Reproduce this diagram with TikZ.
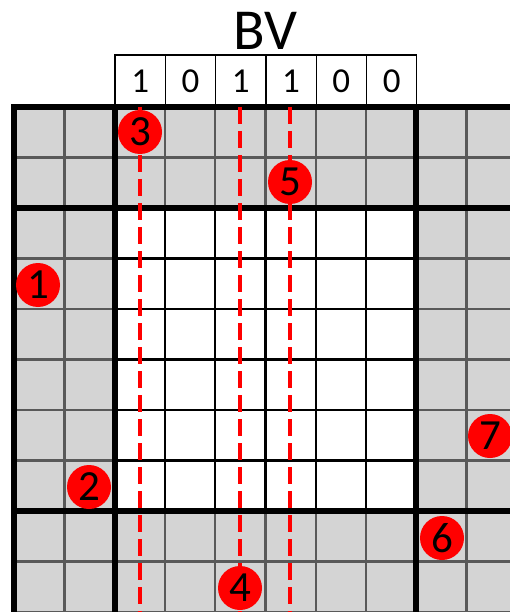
\documentclass[tikz,border=0pt]{standalone}
\usepackage{fontspec}
\setmainfont{Carlito}
\begin{document}
\begin{tikzpicture}[x=1pt,y=-1pt,
  marker/.style={circle,fill=red,minimum size=44pt,inner sep=0pt,font=\fontsize{43}{43}\selectfont},
  bitbox/.style={draw=black,line width=1.3pt,minimum width=50.3pt,minimum height=52pt,inner sep=0pt,font=\fontsize{35}{35}\selectfont},
  thin/.style={draw=black!65,line width=2.5pt},
  inner/.style={draw=black,line width=2.2pt},
  thick/.style={draw=black,line width=5.5pt},
  reddash/.style={draw=red,line width=4.5pt,dash pattern=on 17pt off 7pt}]
\useasboundingbox (0,0) rectangle (510,612);
\begin{scope}
\clip (0,0) rectangle (510,612);
% grey field and white centre
\fill[black!17] (14,107) rectangle (520,615);
\fill[white] (115,208) rectangle (416,511);
% thin grid lines
\foreach \i in {1,...,10} \draw[thin] ({14+50.3*\i},107) -- ({14+50.3*\i},615);
\foreach \j in {1,...,10} \draw[thin] (14,{107+50.5*\j}) -- (520,{107+50.5*\j});
% inner black lines
\foreach \i in {3,...,7} \draw[inner] ({14+50.3*\i},208) -- ({14+50.3*\i},511);
\foreach \j in {3,...,7} \draw[inner] (115,{107+50.5*\j}) -- (416,{107+50.5*\j});
% thick lines
\draw[thick] (14,104.25) -- (14,615);
\draw[thick] (115,107) -- (115,615);
\draw[thick] (416,107) -- (416,615);
\draw[thick] (11.25,107) -- (520,107);
\draw[thick] (14,208) -- (520,208);
\draw[thick] (14,511) -- (520,511);
\end{scope}
% bit vector boxes
\foreach \b [count=\k from 0] in {1,0,1,1,0,0}
  \node[bitbox] (b\k) at ({115+25.15+50.3*\k},81) {\b};
\node[font=\fontsize{58}{58}\selectfont] (bv) at (265.5,31) {BV};
% red dashed lines
\coordinate (d1t) at (140,107); \coordinate (d1b) at (140,612);
\coordinate (d2t) at (240,107); \coordinate (d2b) at (240,612);
\coordinate (d3t) at (290,107); \coordinate (d3b) at (290,612);
\draw[reddash] (d1t) -- (d1b);
\draw[reddash] (d2t) -- (d2b);
\draw[reddash] (d3t) -- (d3b);
% markers
\node[marker] (m1) at (38,285) {1};
\node[marker] (m2) at (89,487) {2};
\node[marker] (m3) at (140,132) {3};
\node[marker] (m4) at (240,588) {4};
\node[marker] (m5) at (290,182) {5};
\node[marker] (m6) at (442,538) {6};
\node[marker] (m7) at (490,436) {7};
\end{tikzpicture}
\end{document}
